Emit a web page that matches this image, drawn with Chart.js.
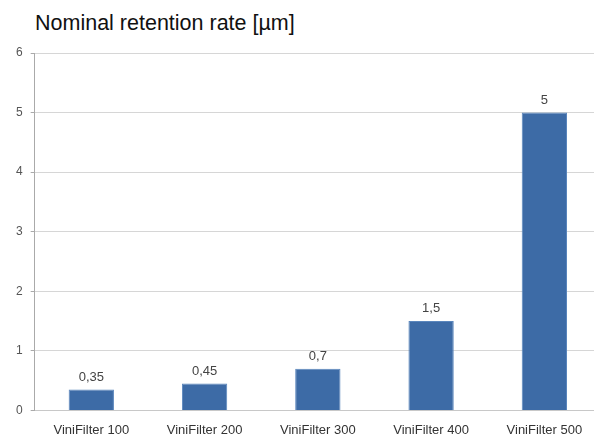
<!DOCTYPE html>
<html>
<head>
<meta charset="utf-8">
<script src="https://cdn.jsdelivr.net/npm/chart.js@4/dist/chart.umd.min.js"></script>
<style>
  html, body { margin: 0; padding: 0; background: #fff; }
  #wrap { position: relative; width: 594px; height: 434px; overflow: hidden; }
  #title {
    position: absolute; left: 35px; top: 11px;
    font-family: "Liberation Sans", Arial, sans-serif;
    font-size: 21.5px; color: #111;
  }
  canvas { position: absolute; left: 0; top: 0; }
</style>
</head>
<body>
<div id="wrap">
  <div id="title">Nominal retention rate [µm]</div>
  <canvas id="chart" width="601" height="445"></canvas>
</div>
<script>
const categories = ["ViniFilter 100", "ViniFilter 200", "ViniFilter 300", "ViniFilter 400", "ViniFilter 500"];
const values = [0.35, 0.45, 0.7, 1.5, 5];
const yTicks = [0, 1, 2, 3, 4, 5, 6];

const fmt = v => String(v).replace(".", ",");

// draws the value above each bar
const valueLabels = {
  id: "valueLabels",
  afterDatasetsDraw(chart) {
    const ctx = chart.ctx;
    const meta = chart.getDatasetMeta(0);
    ctx.save();
    ctx.font = "13px 'Liberation Sans', Arial, sans-serif";
    ctx.fillStyle = "#444";
    ctx.textAlign = "center";
    ctx.textBaseline = "bottom";
    meta.data.forEach((bar, i) => {
      ctx.fillText(fmt(values[i]), bar.x, bar.y - 6);
    });
    ctx.restore();
  }
};

new Chart(document.getElementById("chart"), {
  type: "bar",
  data: {
    labels: categories,
    datasets: [{
      data: values,
      backgroundColor: "#3d6ba6",
      borderColor: "#5a86bd",
      borderWidth: 1,
      barPercentage: 0.8,
      categoryPercentage: 0.5
    }]
  },
  options: {
    responsive: false,
    animation: false,
    layout: { padding: { top: 53, right: 0, bottom: 3, left: 8 } },
    plugins: {
      legend: { display: false },
      tooltip: { enabled: false }
    },
    scales: {
      x: {
        grid: { display: false },
        border: { color: "#c8c8c8" },
        ticks: {
          color: "#333",
          padding: 4,
          minRotation: 0,
          maxRotation: 0,
          font: { family: "'Liberation Sans', Arial, sans-serif", size: 13 }
        }
      },
      y: {
        min: 0,
        max: 6,
        afterBuildTicks: axis => { axis.ticks = yTicks.map(v => ({ value: v })); },
        grid: { color: "#d6d6d6", tickLength: 4, tickColor: "#aaa" },
        border: { color: "#aaa" },
        ticks: {
          color: "#555",
          padding: 8,
          font: { family: "'Liberation Sans', Arial, sans-serif", size: 12 }
        }
      }
    }
  },
  plugins: [valueLabels]
});
</script>
</body>
</html>
